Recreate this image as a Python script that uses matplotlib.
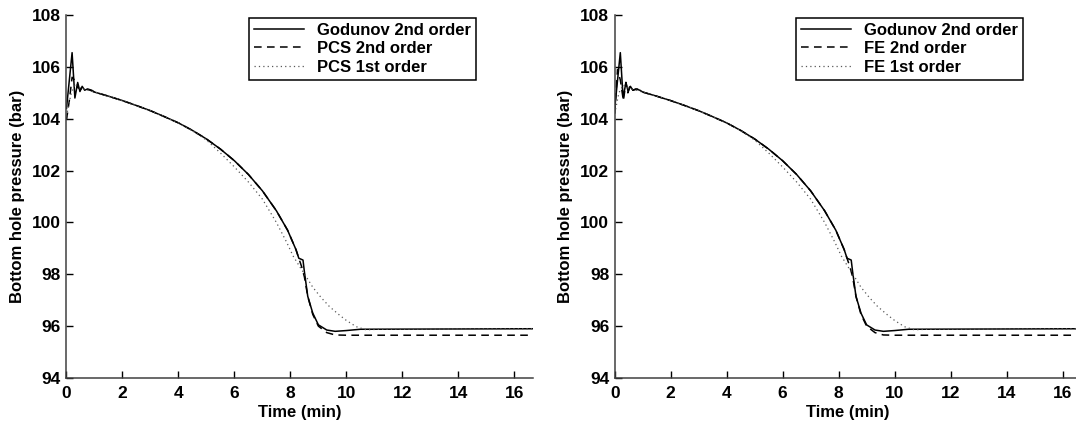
import numpy as np
import matplotlib
matplotlib.use("Agg")
import matplotlib.pyplot as plt

plt.rcParams['font.family'] = ['Liberation Sans', 'DejaVu Sans']
plt.rcParams['font.weight'] = 'bold'

# Godunov 2nd order (same run shown in both panels)
t_god = [0, 0.2, 0.3, 0.4, 0.48, 0.56, 0.65, 0.75, 0.9, 1, 1.5, 2, 2.5, 3, 3.5, 4, 4.5, 5,
         5.5, 6, 6.5, 7, 7.5, 7.9, 8.2, 8.3, 8.45, 8.5, 8.62, 8.8, 9.0, 9.3, 9.6, 10, 10.5, 16.67]
p_god = [104.4, 106.55, 104.8, 105.4, 105.05, 105.25, 105.1, 105.15, 105.1, 105.03, 104.87,
         104.7, 104.51, 104.31, 104.08, 103.84, 103.55, 103.22, 102.83, 102.38, 101.85, 101.22,
         100.45, 99.7, 98.95, 98.62, 98.55, 98.1, 97.15, 96.5, 96.05, 95.85, 95.8, 95.83,
         95.88, 95.9]

# PCS 2nd order
t_pcs2 = [0, 0.1, 0.2, 0.28, 0.4, 0.55, 0.8, 1, 1.5, 2, 2.5, 3, 3.5, 4, 4.5, 5, 5.5, 6, 6.5,
          7, 7.5, 7.9, 8.2, 8.3, 8.4, 8.5, 8.62, 8.8, 9.0, 9.3, 9.6, 10, 16.67]
p_pcs2 = [103.95, 104.7, 105.6, 105.5, 105.2, 105.15, 105.12, 105.03, 104.87, 104.7, 104.51,
          104.31, 104.08, 103.84, 103.55, 103.22, 102.83, 102.38, 101.85, 101.22, 100.45, 99.7,
          98.95, 98.62, 98.3, 97.9, 97.15, 96.45, 96.0, 95.75, 95.66, 95.65, 95.65]

# PCS 1st order
t_pcs1 = [0, 0.15, 0.3, 0.45, 0.6, 1, 1.5, 2, 2.5, 3, 3.5, 4, 4.5, 5, 5.5, 6, 6.5, 7, 7.5,
          7.86, 8.1, 8.33, 8.57, 8.8, 9.1, 9.4, 9.76, 10.0, 10.35, 10.7, 11.2, 16.67]
p_pcs1 = [104.1, 104.9, 105.35, 105.2, 105.15, 105.03, 104.87, 104.7, 104.51, 104.31, 104.08,
          103.84, 103.54, 103.18, 102.68, 102.14, 101.56, 100.9, 100.0, 99.25, 98.7, 98.3,
          97.9, 97.5, 97.1, 96.75, 96.42, 96.22, 95.98, 95.86, 95.88, 95.9]

# FE 2nd order
t_fe2 = [0, 0.1, 0.2, 0.31, 0.4, 0.47, 0.55, 0.65, 0.8, 1, 1.5, 2, 2.5, 3, 3.5, 4, 4.5, 5,
         5.5, 6, 6.5, 7, 7.5, 7.9, 8.2, 8.3, 8.4, 8.5, 8.62, 8.8, 9.0, 9.3, 9.6, 10, 16.67]
p_fe2 = [104.2, 105.9, 105.5, 104.7, 105.4, 105.0, 105.3, 105.1, 105.15, 105.03, 104.87,
         104.7, 104.51, 104.31, 104.08, 103.84, 103.55, 103.22, 102.83, 102.38, 101.85,
         101.22, 100.45, 99.7, 98.95, 98.62, 98.3, 97.9, 97.15, 96.45, 96.0, 95.75, 95.66,
         95.65, 95.65]

# FE 1st order
t_fe1 = [0, 0.15, 0.3, 0.45, 0.6, 1, 1.5, 2, 2.5, 3, 3.5, 4, 4.5, 5, 5.5, 6, 6.5, 7, 7.5,
         7.86, 8.1, 8.33, 8.57, 8.8, 9.1, 9.4, 9.76, 10.0, 10.35, 10.7, 11.2, 16.67]
p_fe1 = [104.2, 105.0, 105.3, 105.2, 105.15, 105.03, 104.87, 104.7, 104.51, 104.31, 104.08,
         103.84, 103.54, 103.18, 102.68, 102.14, 101.56, 100.9, 100.0, 99.25, 98.7, 98.3,
         97.9, 97.5, 97.1, 96.75, 96.42, 96.22, 95.98, 95.86, 95.88, 95.9]

x_ticks = np.arange(0, 17, 2)
y_ticks = np.arange(94, 109, 2)

fig = plt.figure(figsize=(10.76, 4.23), dpi=100)
ax1 = fig.add_axes([0.0618, 0.1064, 0.4336, 0.858])
ax2 = fig.add_axes([0.5713, 0.1064, 0.4336, 0.858])

panels = [
    (ax1, (t_pcs2, p_pcs2, 'PCS 2nd order'), (t_pcs1, p_pcs1, 'PCS 1st order'), 0.878),
    (ax2, (t_fe2, p_fe2, 'FE 2nd order'), (t_fe1, p_fe1, 'FE 1st order'), 0.875),
]

for ax, second, first, leg_x in panels:
    ax.plot(t_god, p_god, color='k', lw=1.1, label='Godunov 2nd order')
    ax.plot(second[0], second[1], color='k', lw=1.1, ls=(0, (5, 3.5)), label=second[2])
    ax.plot(first[0], first[1], color='0.35', lw=0.9, ls=(0, (1, 2.5)), label=first[2])

    ax.set_xlim(0, 16.67)
    ax.set_ylim(94, 108)
    ax.set_xticks(x_ticks)
    ax.set_yticks(y_ticks)
    ax.tick_params(direction='in', length=5, width=1, labelsize=12.5, pad=4)
    ax.tick_params(axis='x', pad=6)
    for lab in ax.get_xticklabels() + ax.get_yticklabels():
        lab.set_fontweight('bold')
    ax.spines['top'].set_visible(False)
    ax.spines['right'].set_visible(False)
    for s in ('left', 'bottom'):
        ax.spines[s].set_linewidth(1.1)
        ax.spines[s].set_color('0.25')

    ax.set_xlabel('Time (min)', fontsize=12, fontweight='bold', labelpad=3)
    ax.set_ylabel('Bottom hole pressure (bar)', fontsize=12, fontweight='bold', labelpad=5)

    leg = ax.legend(loc='upper right', bbox_to_anchor=(leg_x, 0.992), borderaxespad=0,
                    fontsize=12, handlelength=3.0, fancybox=False, framealpha=1,
                    borderpad=0.3, labelspacing=0.2, handletextpad=0.8)
    leg.get_frame().set_edgecolor('k')
    leg.get_frame().set_linewidth(1.1)
    for txt in leg.get_texts():
        txt.set_fontweight('bold')

fig.savefig('out.png', dpi=100)
